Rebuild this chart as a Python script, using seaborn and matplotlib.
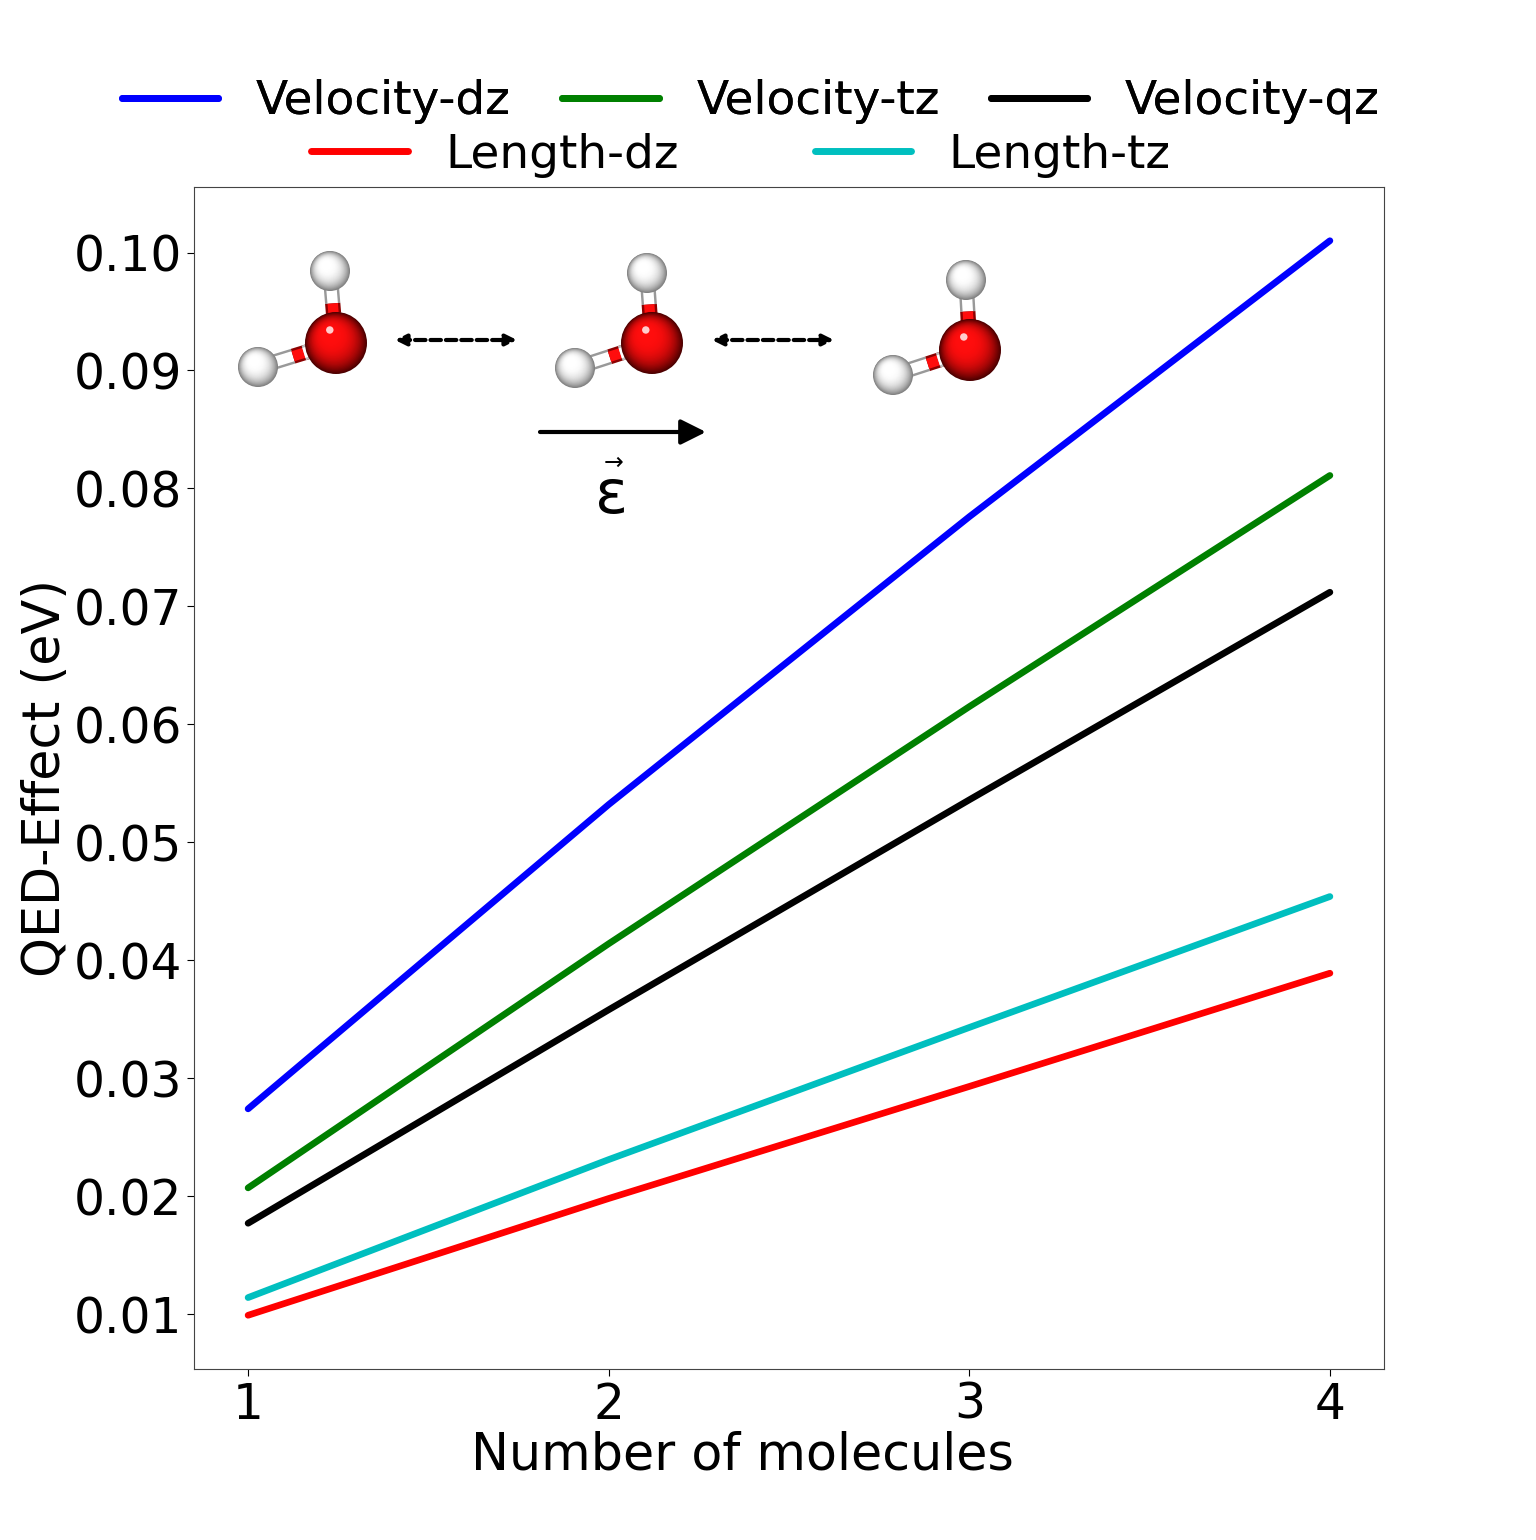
import numpy as np
import matplotlib
matplotlib.use("Agg")
import matplotlib.pyplot as plt
import seaborn as sns
from matplotlib.patches import Circle, FancyArrowPatch
from matplotlib.ticker import MultipleLocator

# data
n_mol = [1, 2, 3, 4]
velocity_dz = [0.0274, 0.0532, 0.0776, 0.1010]
velocity_tz = [0.0207, 0.0414, 0.0615, 0.0811]
velocity_qz = [0.0177, 0.0358, 0.0536, 0.0712]
length_dz = [0.0099, 0.0198, 0.0293, 0.0389]
length_tz = [0.0114, 0.0231, 0.0343, 0.0454]

sns.set_style("ticks")
plt.rcParams['font.family'] = ['DejaVu Sans']
plt.rcParams['text.color'] = 'black'
plt.rcParams['axes.labelcolor'] = 'black'
plt.rcParams['xtick.color'] = 'black'
plt.rcParams['ytick.color'] = 'black'

fig = plt.figure(figsize=(15.36, 15.40), dpi=100)
ax = fig.add_axes([194/1536, 1-1369/1540, (1384-194)/1536, (1369-187)/1540])

lw = 4.8
sns.lineplot(x=n_mol, y=velocity_dz, color='b', lw=lw, ax=ax, label='Velocity-dz')
sns.lineplot(x=n_mol, y=velocity_tz, color='g', lw=lw, ax=ax, label='Velocity-tz')
sns.lineplot(x=n_mol, y=velocity_qz, color='k', lw=lw, ax=ax, label='Velocity-qz')
sns.lineplot(x=n_mol, y=length_dz, color='r', lw=lw, ax=ax, label='Length-dz')
sns.lineplot(x=n_mol, y=length_tz, color='c', lw=lw, ax=ax, label='Length-tz')

handles, labels = ax.get_legend_handles_labels()
ax.get_legend().remove()

ax.set_xticks(n_mol)
ax.yaxis.set_major_locator(MultipleLocator(0.01))
ax.tick_params(labelsize=35, width=0.8, length=5, colors='black')
for s in ax.spines.values():
    s.set_linewidth(0.8)
    s.set_color('#444444')
ax.set_xlabel('Number of molecules', fontsize=36.5, labelpad=0)
ax.xaxis.set_label_coords((742-194)/1190, -0.052)
ax.set_ylabel('QED-Effect (eV)', fontsize=36.5, labelpad=2)

leg1 = fig.legend(handles[:3], labels[:3], loc='center', ncol=3, frameon=False,
                  fontsize=33.8, bbox_to_anchor=(751/1536, 1-102/1540),
                  handlelength=2.05, columnspacing=1.1, handletextpad=0.8)
fig.add_artist(leg1)
fig.legend(handles[3:], labels[3:], loc='center', ncol=2, frameon=False,
           fontsize=33.8, bbox_to_anchor=(741/1536, 1-155/1540),
           handlelength=2.05, columnspacing=2.9, handletextpad=0.8)
for leg in fig.legends:
    for h in leg.legend_handles:
        h.set_linewidth(5)

# water molecules sketch (pixel coordinates overlay)
ov = fig.add_axes([0, 0, 1, 1], zorder=5)
ov.set_xlim(0, 1536)
ov.set_ylim(1540, 0)
ov.axis('off')
ov.patch.set_alpha(0)


def sphere(cx, cy, r, dark, light, z):
    dark = np.array(dark)
    light = np.array(light)
    n = 28
    for i in range(n):
        t = i / (n - 1)
        rr = r * (1 - 0.8 * t)
        c = dark * (1 - t) ** 2.5 + light * (1 - (1 - t) ** 2.5)
        ox = -0.2 * r * t
        oy = -0.3 * r * t
        ov.add_patch(Circle((cx + ox, cy + oy), rr, color=c, lw=0, zorder=z))
    ov.add_patch(Circle((cx - 0.2 * r, cy - 0.42 * r), 0.12 * r,
                        color='white', alpha=0.8, lw=0, zorder=z + 0.1))


def bond(x0, y0, x1, y1, c_dark, c_light, z):
    ov.plot([x0, x1], [y0, y1], color=c_dark, lw=11, solid_capstyle='butt', zorder=z)
    ov.plot([x0, x1], [y0, y1], color=c_light, lw=7.5, solid_capstyle='butt', zorder=z)


def water(ox, oy, ht, hl):
    for hx, hy in (ht, hl):
        mx, my = ox + (hx - ox) * 0.55, oy + (hy - oy) * 0.55
        bond(hx, hy, mx, my, (0.6, 0.6, 0.6), (1, 1, 1), 2)
        bond(mx, my, ox, oy, (0.55, 0, 0), (1, 0.05, 0.05), 2)
        sx, sy = mx + (ox - mx) * 0.25, my + (oy - my) * 0.25
        ex, ey = mx + (ox - mx) * 0.4, my + (oy - my) * 0.4
        bond(sx, sy, ex, ey, (0.75, 0.75, 0.75), (1, 1, 1), 2.1)
        sphere(hx, hy, 20, (0.5, 0.5, 0.5), (1, 1, 1), 3)
    sphere(ox, oy, 31, (0.3, 0, 0), (1, 0.05, 0.05), 4)


water(336, 343, (330, 271), (258, 367))
water(652, 343, (647, 273), (575, 368))
water(970, 350, (966, 280), (893, 375))

for x0, x1 in ((395, 517), (712, 834)):
    ov.add_patch(FancyArrowPatch((x0, 340), (x1, 340), arrowstyle='<|-|>',
                                 mutation_scale=16, lw=3, linestyle=(0, (2.5, 1.2)),
                                 color='black', zorder=4, shrinkA=0, shrinkB=0))
ov.add_patch(FancyArrowPatch((540, 432), (706, 432), arrowstyle='-|>',
                             mutation_scale=38, lw=3, color='black', zorder=4,
                             shrinkA=0, shrinkB=0))
ov.text(612, 497, '\u025b', fontsize=44, ha='center', va='center')
ov.text(614, 463, '\u2192', fontsize=17, ha='center', va='center')

fig.savefig('out.png', dpi=100)
